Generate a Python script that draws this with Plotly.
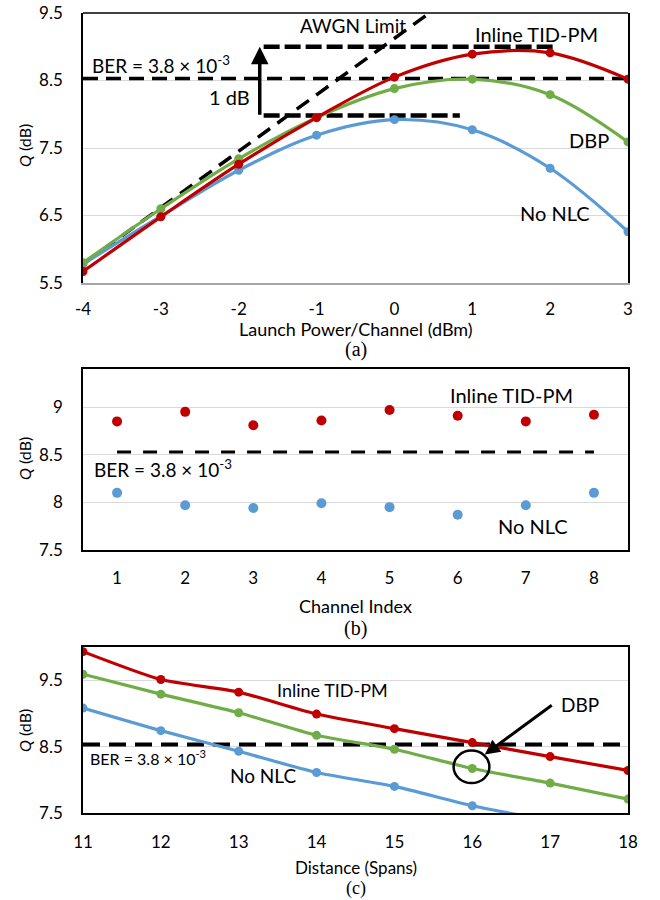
import plotly.graph_objects as go

# ---------------- Data ----------------
# Panel (a): Q vs launch power
power_dbm = [-4, -3, -2, -1, 0, 1, 2, 3]
power_ticklabels = ["-4", "-3", "-2", "-1", "0", "1", "2", "3"]
q_a_no_nlc = [5.78, 6.49, 7.17, 7.69, 7.92, 7.77, 7.20, 6.26]
q_a_dbp = [5.80, 6.60, 7.34, 7.95, 8.38, 8.52, 8.29, 7.59]
q_a_tidpm = [5.67, 6.48, 7.26, 7.95, 8.55, 8.89, 8.91, 8.52]
awgn_x = [-4.0, 0.45]
awgn_y = [5.78, 9.5]
gain_top_x = [-1.68, 2.06]
gain_top_y = [9.0, 9.0]
gain_bot_x = [-1.68, 0.84]
gain_bot_y = [7.98, 7.98]
ber_q = 8.53
q_a_ticks = [5.5, 6.5, 7.5, 8.5, 9.5]
q_a_ticklabels = ["5.5", "6.5", "7.5", "8.5", "9.5"]

# Panel (b): Q vs channel index
channel_idx = [1, 2, 3, 4, 5, 6, 7, 8]
q_b_tidpm = [8.85, 8.95, 8.81, 8.86, 8.97, 8.91, 8.85, 8.92]
q_b_no_nlc = [8.10, 7.97, 7.94, 7.99, 7.95, 7.87, 7.97, 8.10]
q_b_ticks = [7.5, 8, 8.5, 9]
q_b_ticklabels = ["7.5", "8", "8.5", "9"]

# Panel (c): Q vs distance
spans = [11, 12, 13, 14, 15, 16, 17, 18]
q_c_tidpm = [9.93, 9.51, 9.32, 8.99, 8.77, 8.56, 8.35, 8.14]
q_c_dbp = [9.59, 9.29, 9.01, 8.67, 8.46, 8.17, 7.95, 7.71]
q_c_no_nlc = [9.08, 8.74, 8.43, 8.11, 7.90, 7.61, 7.38, 7.12]
q_c_ticks = [7.5, 8.5, 9.5]
q_c_ticklabels = ["7.5", "8.5", "9.5"]

# ---------------- Styles ----------------
RED = "#C00000"
GREEN = "#70AD47"
BLUE = "#5B9BD5"
FONT = "Lato"
W, H = 660, 900
PL, PR = 83, 628  # plot area left/right in px


def px(xp, yp):
    return xp / W, 1 - yp / H


def ydom(top, bottom):
    return [1 - bottom / H, 1 - top / H]


fig = go.Figure()

# ---- Panel (a)
fig.add_trace(go.Scatter(x=awgn_x, y=awgn_y, mode="lines", xaxis="x", yaxis="y",
                         line=dict(color="black", width=3.5, dash="15px,9px")))
fig.add_trace(go.Scatter(x=[power_dbm[0], power_dbm[-1]], y=[ber_q, ber_q], mode="lines",
                         xaxis="x", yaxis="y",
                         line=dict(color="black", width=3.5, dash="15px,8px")))
fig.add_trace(go.Scatter(x=gain_top_x, y=gain_top_y, mode="lines", xaxis="x", yaxis="y",
                         line=dict(color="black", width=4.5, dash="16px,5px")))
fig.add_trace(go.Scatter(x=gain_bot_x, y=gain_bot_y, mode="lines", xaxis="x", yaxis="y",
                         line=dict(color="black", width=4.5, dash="16px,5px")))
for ys, c in [(q_a_no_nlc, BLUE), (q_a_dbp, GREEN), (q_a_tidpm, RED)]:
    fig.add_trace(go.Scatter(x=power_dbm, y=ys, mode="lines+markers", xaxis="x", yaxis="y",
                             line=dict(color=c, width=3.2, shape="spline", smoothing=1),
                             marker=dict(color=c, size=9)))

# ---- Panel (b)
fig.add_trace(go.Scatter(x=[channel_idx[0], channel_idx[-1]], y=[ber_q, ber_q], mode="lines",
                         xaxis="x2", yaxis="y2",
                         line=dict(color="black", width=3, dash="14px,12px")))
fig.add_trace(go.Scatter(x=channel_idx, y=q_b_tidpm, mode="markers", xaxis="x2", yaxis="y2",
                         marker=dict(color=RED, size=10)))
fig.add_trace(go.Scatter(x=channel_idx, y=q_b_no_nlc, mode="markers", xaxis="x2", yaxis="y2",
                         marker=dict(color=BLUE, size=10)))

# ---- Panel (c)
fig.add_trace(go.Scatter(x=[spans[0], spans[-1]], y=[ber_q, ber_q], mode="lines",
                         xaxis="x3", yaxis="y3",
                         line=dict(color="black", width=4, dash="17px,9px")))
for ys, c in [(q_c_no_nlc, BLUE), (q_c_dbp, GREEN), (q_c_tidpm, RED)]:
    fig.add_trace(go.Scatter(x=spans, y=ys, mode="lines+markers", xaxis="x3", yaxis="y3",
                             line=dict(color=c, width=3.2, shape="spline", smoothing=0.6),
                             marker=dict(color=c, size=9)))

# ---------------- Axes ----------------
xdom = [PL / W, PR / W]
tickfont = dict(family=FONT, size=17, color="black")
common_x = dict(domain=xdom, showline=True, mirror=True, linecolor="black", linewidth=1.5,
                showgrid=False, zeroline=False, ticks="", tickfont=tickfont, fixedrange=True,
                automargin=False, ticklabelstandoff=11, ticklabeloverflow="allow")
common_y = dict(showline=True, mirror=True, linecolor="black", linewidth=1.5,
                showgrid=True, gridcolor="#D9D9D9", gridwidth=1, zeroline=False, ticks="",
                tickfont=tickfont, fixedrange=True, automargin=False, ticklabelstandoff=15,
                ticklabeloverflow="allow")

fig.update_layout(
    template="none",
    width=W, height=H, margin=dict(l=0, r=0, t=0, b=0, pad=0, autoexpand=False),
    paper_bgcolor="white", plot_bgcolor="white", showlegend=False,
    font=dict(family=FONT, color="black"),
    xaxis=dict(common_x, anchor="y", range=[-4, 3], tickvals=power_dbm,
               ticktext=power_ticklabels, mirror=False, linecolor="#A6A6A6",
               ticklabelstandoff=10),
    yaxis=dict(common_y, anchor="x", domain=ydom(13, 283), range=[5.5, 9.5],
               tickvals=q_a_ticks, ticktext=q_a_ticklabels),
    xaxis2=dict(common_x, anchor="y2", range=[0.5, 8.5], tickvals=channel_idx,
                ticklabelstandoff=12),
    yaxis2=dict(common_y, anchor="x2", domain=ydom(369, 550), range=[7.5, 9.4],
                tickvals=q_b_ticks, ticktext=q_b_ticklabels),
    xaxis3=dict(common_x, anchor="y3", range=[11, 18], tickvals=spans,
                ticklabelstandoff=13),
    yaxis3=dict(common_y, anchor="x3", domain=ydom(647, 813), range=[7.5, 10.0],
                tickvals=q_c_ticks, ticktext=q_c_ticklabels),
)

# black top border of panel (a) (its bottom axis line is grey)
fig.add_shape(type="line", xref="x domain", yref="y domain", x0=0, x1=1, y0=1, y1=1,
              line=dict(color="black", width=1.5))

# ---------------- Annotations ----------------
ann = []
ber_txt = "BER = 3.8 × 10<sup>-3</sup>"


def data_text(text, x, y, xr, yr, size=20):
    ann.append(dict(text=text, x=x, y=y, xref=xr, yref=yr, showarrow=False,
                    xanchor="center", yanchor="middle",
                    font=dict(family=FONT, size=size, color="black")))


# (a)
data_text("AWGN Limit", -0.53, 9.32, "x", "y", 19)
data_text("Inline TID-PM", 1.83, 9.19, "x", "y")
data_text("DBP", 2.5, 7.62, "x", "y")
data_text("No NLC", 2.06, 6.53, "x", "y")
data_text(ber_txt, -3.0, 8.73, "x", "y", 19)
data_text("1 dB", -2.12, 8.25, "x", "y")
ann.append(dict(x=-1.73, y=9.0, ax=-1.73, ay=7.97, xref="x", yref="y", axref="x", ayref="y",
                text="", showarrow=True, arrowhead=2, arrowsize=1, arrowwidth=3.5,
                arrowcolor="black"))
# (b)
data_text("Inline TID-PM", 6.79, 9.13, "x2", "y2")
data_text("No NLC", 7.1, 7.75, "x2", "y2")
data_text(ber_txt, 1.67, 8.36, "x2", "y2", 19)
# (c)
data_text("Inline TID-PM", 14.21, 9.35, "x3", "y3", 18)
data_text("DBP", 17.38, 9.13, "x3", "y3", 19)
data_text("No NLC", 13.31, 8.07, "x3", "y3", 19)
data_text(ber_txt, 11.83, 8.33, "x3", "y3", 16)
ann.append(dict(x=16.16, y=8.38, ax=17.04, ay=9.14, xref="x3", yref="y3", axref="x3", ayref="y3",
                text="", showarrow=True, arrowhead=2, arrowsize=1, arrowwidth=3,
                arrowcolor="black"))


def paper_text(text, xp, yp, size=16, family=FONT, angle=0):
    x, y = px(xp, yp)
    ann.append(dict(text=text, x=x, y=y, xref="paper", yref="paper", showarrow=False,
                    xanchor="center", yanchor="middle", textangle=angle,
                    font=dict(family=family, size=size, color="black")))


xc = (PL + PR) / 2
for yc in [146, 459, 731]:
    paper_text("<i>Q</i> (dB)", 24, yc, 16, angle=-90)
paper_text("Launch Power/Channel (dBm)", xc, 329, 18)
paper_text("Channel Index", xc, 606, 18)
paper_text("Distance (Spans)", xc, 867, 17)
paper_text("(a)", xc, 350, 20, "Liberation Serif")
paper_text("(b)", xc, 628, 20, "Liberation Serif")
paper_text("(c)", xc, 888, 18, "Liberation Serif")

fig.update_layout(annotations=ann)

fig.add_shape(type="circle", xref="x3", yref="y3", x0=15.76, x1=16.22, y0=7.95, y1=8.44,
              line=dict(color="black", width=2.5))

fig.write_html("out.html", config={"displayModeBar": False},
               post_script="document.body.style.margin='0px';document.body.style.overflow='hidden';")
